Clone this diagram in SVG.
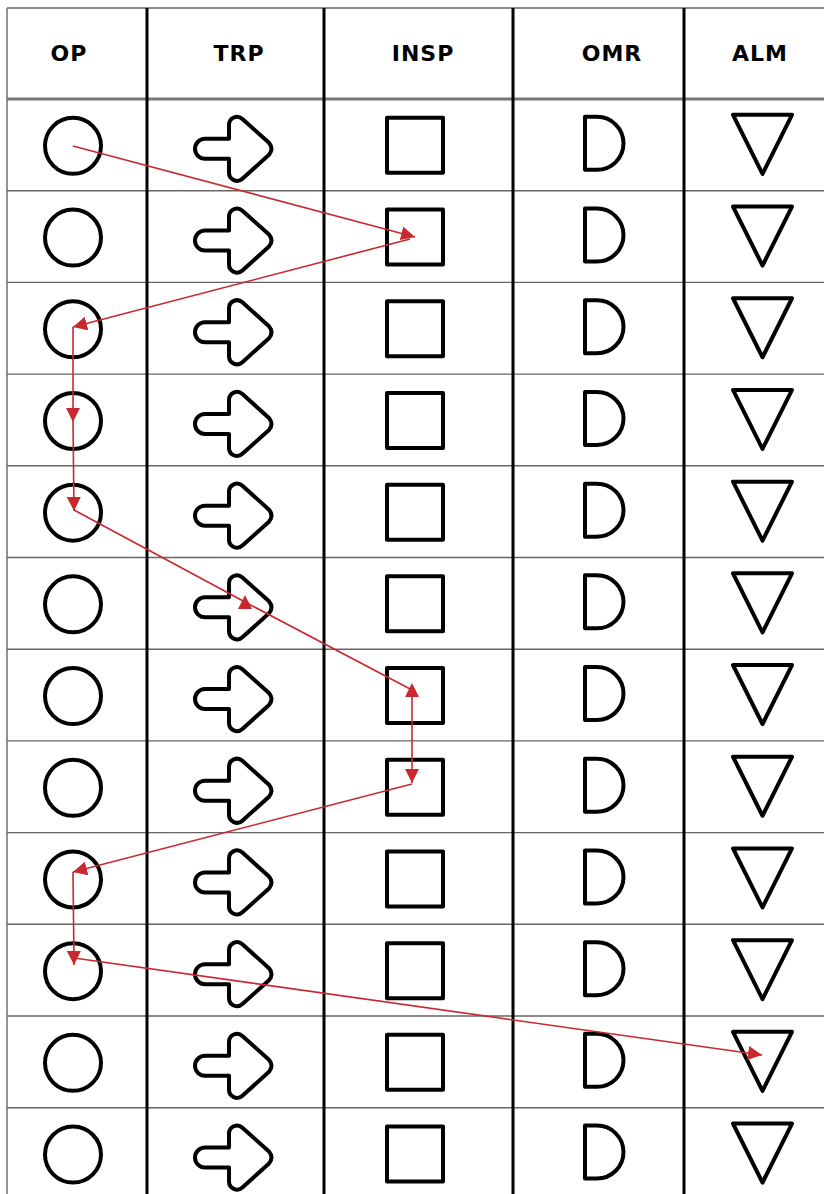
<svg xmlns="http://www.w3.org/2000/svg" xmlns:xlink="http://www.w3.org/1999/xlink" width="824" height="1194" viewBox="0 0 824 1194">
<style>
.sym{fill:none;stroke:#000;stroke-width:4;stroke-linejoin:round}
.hl{stroke:#666;stroke-width:1.4}
.vl{stroke:#000;stroke-width:3}
.hd{font-family:"DejaVu Sans","Liberation Sans",sans-serif;font-weight:700;font-size:22px;fill:#000;text-anchor:middle;letter-spacing:1px}
.cn{fill:none;stroke:#c8282e;stroke-width:1.6}
</style>
<defs>
<marker id="ah" markerUnits="userSpaceOnUse" markerWidth="14" markerHeight="14" refX="14" refY="7" orient="auto"><path d="M0,0 L14,7 L0,14 Z" fill="#c8282e"/></marker>
<marker id="au" markerUnits="userSpaceOnUse" markerWidth="14" markerHeight="14" refX="7" refY="7" orient="270"><path d="M0,0 L14,7 L0,14 Z" fill="#c8282e"/></marker>
<circle id="sOP" class="sym" cx="73" cy="1" r="28"/>
<path id="sTRP" class="sym" transform="translate(233,4)" d="M-28,-10 H-4 V-24 A8,8 0 0 1 9.4,-29.9 L36,-6 Q41,0 36,6 L9.4,29.9 A8,8 0 0 1 -4,24 V10 H-28 A10,10 0 0 1 -28,-10 Z"/>
<rect id="sINSP" class="sym" x="387" y="-27" width="56" height="55"/>
<path id="sOMR" class="sym" d="M585,-28 H597 A26.5,26.5 0 0 1 597,25 H585 Z"/>
<path id="sALM" class="sym" d="M733,-30 H792 L762.5,29 Z"/>
</defs>
<rect width="824" height="1194" fill="#fff"/>
<g id="grid">
<line class="hl" x1="7" y1="8" x2="824" y2="8"/>
<line class="hl" x1="7" y1="8" x2="7" y2="1194"/>
<line x1="7" y1="99" x2="824" y2="99" stroke="#777" stroke-width="3"/>
<line class="hl" x1="7" y1="190.7" x2="824" y2="190.7"/>
<line class="hl" x1="7" y1="282.4" x2="824" y2="282.4"/>
<line class="hl" x1="7" y1="374.1" x2="824" y2="374.1"/>
<line class="hl" x1="7" y1="465.8" x2="824" y2="465.8"/>
<line class="hl" x1="7" y1="557.5" x2="824" y2="557.5"/>
<line class="hl" x1="7" y1="649.2" x2="824" y2="649.2"/>
<line class="hl" x1="7" y1="740.9" x2="824" y2="740.9"/>
<line class="hl" x1="7" y1="832.6" x2="824" y2="832.6"/>
<line class="hl" x1="7" y1="924.3" x2="824" y2="924.3"/>
<line class="hl" x1="7" y1="1016" x2="824" y2="1016"/>
<line class="hl" x1="7" y1="1107.7" x2="824" y2="1107.7"/>
<line class="vl" x1="147" y1="8" x2="147" y2="1194"/>
<line class="vl" x1="324" y1="8" x2="324" y2="1194"/>
<line class="vl" x1="513" y1="8" x2="513" y2="1194"/>
<line class="vl" x1="684" y1="8" x2="684" y2="1194"/>
</g>
<g id="header">
<text class="hd" x="69" y="61">OP</text>
<text class="hd" x="239" y="61">TRP</text>
<text class="hd" x="423" y="61">INSP</text>
<text class="hd" x="612" y="61">OMR</text>
<text class="hd" x="760" y="61">ALM</text>
</g>
<g id="row1" transform="translate(0,144.85)"><g id="op1"><use href="#sOP"/></g><g id="trp1"><use href="#sTRP"/></g><g id="insp1"><use href="#sINSP"/></g><g id="omr1"><use href="#sOMR"/></g><g id="alm1"><use href="#sALM"/></g></g>
<g id="row2" transform="translate(0,236.55)"><g id="op2"><use href="#sOP"/></g><g id="trp2"><use href="#sTRP"/></g><g id="insp2"><use href="#sINSP"/></g><g id="omr2"><use href="#sOMR"/></g><g id="alm2"><use href="#sALM"/></g></g>
<g id="row3" transform="translate(0,328.25)"><g id="op3"><use href="#sOP"/></g><g id="trp3"><use href="#sTRP"/></g><g id="insp3"><use href="#sINSP"/></g><g id="omr3"><use href="#sOMR"/></g><g id="alm3"><use href="#sALM"/></g></g>
<g id="row4" transform="translate(0,419.95)"><g id="op4"><use href="#sOP"/></g><g id="trp4"><use href="#sTRP"/></g><g id="insp4"><use href="#sINSP"/></g><g id="omr4"><use href="#sOMR"/></g><g id="alm4"><use href="#sALM"/></g></g>
<g id="row5" transform="translate(0,511.65)"><g id="op5"><use href="#sOP"/></g><g id="trp5"><use href="#sTRP"/></g><g id="insp5"><use href="#sINSP"/></g><g id="omr5"><use href="#sOMR"/></g><g id="alm5"><use href="#sALM"/></g></g>
<g id="row6" transform="translate(0,603.35)"><g id="op6"><use href="#sOP"/></g><g id="trp6"><use href="#sTRP"/></g><g id="insp6"><use href="#sINSP"/></g><g id="omr6"><use href="#sOMR"/></g><g id="alm6"><use href="#sALM"/></g></g>
<g id="row7" transform="translate(0,695.05)"><g id="op7"><use href="#sOP"/></g><g id="trp7"><use href="#sTRP"/></g><g id="insp7"><use href="#sINSP"/></g><g id="omr7"><use href="#sOMR"/></g><g id="alm7"><use href="#sALM"/></g></g>
<g id="row8" transform="translate(0,786.75)"><g id="op8"><use href="#sOP"/></g><g id="trp8"><use href="#sTRP"/></g><g id="insp8"><use href="#sINSP"/></g><g id="omr8"><use href="#sOMR"/></g><g id="alm8"><use href="#sALM"/></g></g>
<g id="row9" transform="translate(0,878.45)"><g id="op9"><use href="#sOP"/></g><g id="trp9"><use href="#sTRP"/></g><g id="insp9"><use href="#sINSP"/></g><g id="omr9"><use href="#sOMR"/></g><g id="alm9"><use href="#sALM"/></g></g>
<g id="row10" transform="translate(0,970.15)"><g id="op10"><use href="#sOP"/></g><g id="trp10"><use href="#sTRP"/></g><g id="insp10"><use href="#sINSP"/></g><g id="omr10"><use href="#sOMR"/></g><g id="alm10"><use href="#sALM"/></g></g>
<g id="row11" transform="translate(0,1061.85)"><g id="op11"><use href="#sOP"/></g><g id="trp11"><use href="#sTRP"/></g><g id="insp11"><use href="#sINSP"/></g><g id="omr11"><use href="#sOMR"/></g><g id="alm11"><use href="#sALM"/></g></g>
<g id="row12" transform="translate(0,1153.55)"><g id="op12"><use href="#sOP"/></g><g id="trp12"><use href="#sTRP"/></g><g id="insp12"><use href="#sINSP"/></g><g id="omr12"><use href="#sOMR"/></g><g id="alm12"><use href="#sALM"/></g></g>
<g id="connectors">
<line class="cn" x1="73" y1="146" x2="415" y2="237" marker-end="url(#ah)"/>
<line class="cn" x1="410" y1="239" x2="73" y2="327" marker-end="url(#ah)"/>
<line class="cn" x1="73" y1="327" x2="73" y2="422" marker-end="url(#ah)"/>
<line class="cn" x1="73" y1="422" x2="74" y2="511" marker-end="url(#ah)"/>
<line class="cn" x1="74" y1="510" x2="245" y2="602" marker-end="url(#au)"/>
<line class="cn" x1="245" y1="602" x2="412" y2="690" marker-end="url(#au)"/>
<line class="cn" x1="412" y1="697" x2="412" y2="783" marker-end="url(#ah)"/>
<line class="cn" x1="412" y1="784" x2="73" y2="872" marker-end="url(#ah)"/>
<line class="cn" x1="73" y1="872" x2="74" y2="965" marker-end="url(#ah)"/>
<line class="cn" x1="74" y1="958" x2="762" y2="1055" marker-end="url(#ah)"/>
</g>
</svg>
